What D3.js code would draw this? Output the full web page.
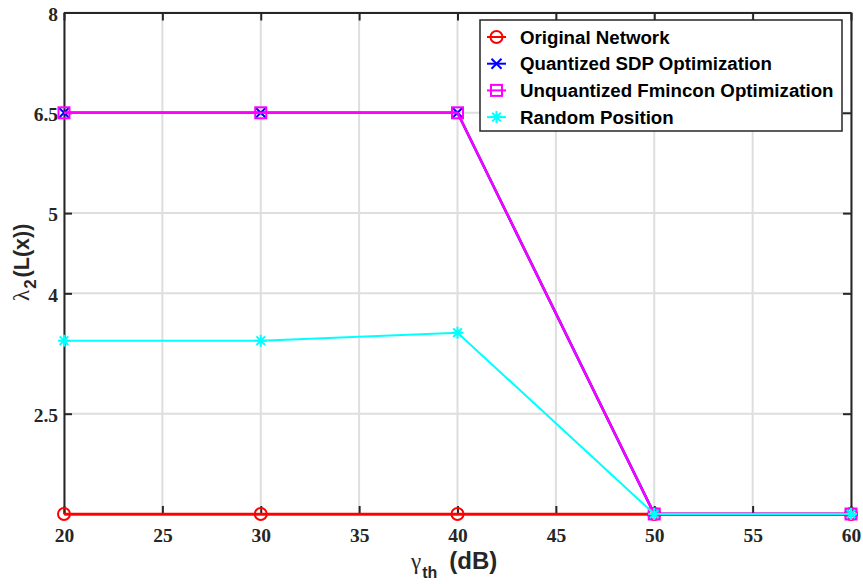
<!DOCTYPE html>
<html>
<head>
<meta charset="utf-8">
<script src="https://cdn.jsdelivr.net/npm/d3@7"></script>
<style>
  body { margin: 0; background: #fff; }
  svg { display: block; }
</style>
</head>
<body>
<svg id="chart" width="863" height="584"></svg>
<script>
// Threshold values on the x axis (dB)
const gammaTh = [20, 30, 40, 50, 60];

// lambda_2(L(x)) for each method
const originalNetwork     = [1.25, 1.25, 1.25, 1.25, 1.25];
const quantizedSDP        = [6.5, 6.5, 6.5, 1.25, 1.25];
const unquantizedFmincon  = [6.5, 6.5, 6.5, 1.25, 1.25];
const randomPosition      = [3.41, 3.41, 3.51, 1.25, 1.25];

const seriesNames = ["Original Network", "Quantized SDP Optimization",
                     "Unquantized Fmincon Optimization", "Random Position"];

const xTicks = [20, 25, 30, 35, 40, 45, 50, 55, 60];
const yTicks = [2.5, 4, 5, 6.5, 8];
const yTickLabels = ["2.5", "4", "5", "6.5", "8"];
const yMin = 1.25;

const svg = d3.select("#chart");
const W = 863, H = 584;
const m = { left: 64, right: 12, top: 12.5, bottom: 70 };
const iw = W - m.left - m.right, ih = H - m.top - m.bottom;

const x = d3.scaleLinear().domain([20, 60]).range([0, iw]);
// The y axis uses a non-uniform tick spacing; a piecewise linear scale reproduces it
const yFrac = [0, 0.2, 0.44, 0.6, 0.8, 1];
const y = d3.scaleLinear()
  .domain([yMin].concat(yTicks))
  .range(yFrac.map(f => ih * (1 - f)));

const g = svg.append("g").attr("transform", `translate(${m.left},${m.top})`);

// grid
g.append("g").selectAll("line").data(xTicks).join("line")
  .attr("x1", d => x(d)).attr("x2", d => x(d))
  .attr("y1", 0).attr("y2", ih)
  .attr("stroke", "#dedede").attr("stroke-width", 2);
g.append("g").selectAll("line").data(yTicks).join("line")
  .attr("x1", 0).attr("x2", iw)
  .attr("y1", d => y(d)).attr("y2", d => y(d))
  .attr("stroke", "#dedede").attr("stroke-width", 2);

const tickFont = "'Liberation Serif', 'Times New Roman', serif";
const sansFont = "'Liberation Sans', Arial, Helvetica, sans-serif";

// axes (ticks point inward, on all four sides)
const axB = d3.axisBottom(x).tickValues(xTicks).tickFormat(d3.format("d"))
  .tickSizeInner(-8).tickSizeOuter(0).tickPadding(14);
const axT = d3.axisTop(x).tickValues(xTicks).tickFormat("")
  .tickSizeInner(-8).tickSizeOuter(0);
const axL = d3.axisLeft(y).tickValues(yTicks).tickFormat((d, i) => yTickLabels[i])
  .tickSizeInner(-8).tickSizeOuter(0).tickPadding(6);
const axR = d3.axisRight(y).tickValues(yTicks).tickFormat("")
  .tickSizeInner(-8).tickSizeOuter(0);

function styleAxis(sel) {
  sel.select(".domain").attr("stroke", "#262626").attr("stroke-width", 2);
  sel.selectAll(".tick line").attr("stroke", "#262626").attr("stroke-width", 2);
  sel.selectAll(".tick text").attr("fill", "#262626")
    .style("font-family", tickFont).style("font-weight", "bold").style("font-size", "19.5px");
}

g.append("g").attr("transform", `translate(0,${ih})`).call(axB).call(styleAxis);
g.append("g").call(axT).call(styleAxis);
g.append("g").call(axL).call(styleAxis).selectAll(".tick text").attr("dy", "0.4em");
g.append("g").attr("transform", `translate(${iw},0)`).call(axR).call(styleAxis);

// series
const series = [
  { name: seriesNames[0], values: originalNetwork,    color: "#ff0000", marker: "circle",   w: 2.4 },
  { name: seriesNames[1], values: quantizedSDP,       color: "#0000ff", marker: "cross",    w: 2.6 },
  { name: seriesNames[2], values: unquantizedFmincon, color: "#ff00ff", marker: "square",   w: 2.4 },
  { name: seriesNames[3], values: randomPosition,     color: "#00ffff", marker: "asterisk", w: 2.0 }
];

function drawMarker(sel, type, color) {
  if (type === "circle") {
    sel.append("circle").attr("r", 6).attr("fill", "none")
      .attr("stroke", color).attr("stroke-width", 2);
  } else if (type === "square") {
    sel.append("rect").attr("x", -5.5).attr("y", -5.5).attr("width", 11).attr("height", 11)
      .attr("fill", "none").attr("stroke", color).attr("stroke-width", 2);
  } else if (type === "cross") {
    sel.append("path").attr("d", "M-5,-5L5,5M-5,5L5,-5")
      .attr("stroke", color).attr("stroke-width", 2).attr("fill", "none");
  } else if (type === "asterisk") {
    sel.append("path").attr("d", "M-6,0L6,0M0,-6L0,6M-4.3,-4.3L4.3,4.3M-4.3,4.3L4.3,-4.3")
      .attr("stroke", color).attr("stroke-width", 2).attr("fill", "none");
  }
}

const line = d3.line().x((d, i) => x(gammaTh[i])).y(d => y(d));

series.forEach(s => {
  const sg = g.append("g");
  sg.append("path").datum(s.values).attr("d", line)
    .attr("fill", "none").attr("stroke", s.color).attr("stroke-width", s.w);
  sg.selectAll("g.mk").data(s.values).join("g").attr("class", "mk")
    .attr("transform", (d, i) => `translate(${x(gammaTh[i])},${y(d)})`)
    .each(function () { drawMarker(d3.select(this), s.marker, s.color); });
});

// legend
const lg = svg.append("g").attr("transform", "translate(480,20)");
lg.append("rect").attr("width", 362).attr("height", 111)
  .attr("fill", "#fff").attr("stroke", "#262626").attr("stroke-width", 1.5);
series.forEach((s, i) => {
  const row = lg.append("g").attr("transform", `translate(0,${17 + i * 26.7})`);
  row.append("line").attr("x1", 7).attr("x2", 26).attr("stroke", s.color).attr("stroke-width", 2);
  const mk = row.append("g").attr("transform", "translate(16.5,0)");
  drawMarker(mk, s.marker, s.color);
  row.append("text").attr("x", 40).attr("y", 0).attr("dy", "0.36em")
    .style("font-family", sansFont)
    .style("font-weight", "bold").style("font-size", "18.7px")
    .attr("fill", "#000").text(s.name);
});

// x label: gamma_th (dB)
const xl = svg.append("text").attr("x", 411).attr("y", 569)
  .attr("fill", "#262626");
xl.append("tspan").style("font-family", tickFont).style("font-size", "23px").text("γ");
xl.append("tspan").attr("dy", 9).attr("dx", 1).style("font-family", sansFont)
  .style("font-weight", "bold").style("font-size", "16px").text("th");
xl.append("tspan").attr("dy", -9).attr("dx", 12)
  .style("font-family", sansFont)
  .style("font-weight", "bold").style("font-size", "24px").text("(dB)");

// y label: lambda_2(L(x))
const yl = svg.append("text").attr("transform", "translate(29,301) rotate(-90)")
  .attr("fill", "#262626");
yl.append("tspan").style("font-family", tickFont).style("font-size", "23px").text("λ");
yl.append("tspan").attr("dy", 7).attr("dx", 1).style("font-family", sansFont)
  .style("font-weight", "bold").style("font-size", "17px").text("2");
yl.append("tspan").attr("dy", -7).attr("dx", 2)
  .style("font-family", sansFont)
  .style("font-weight", "bold").style("font-size", "21.5px").text("(L(x))");
</script>
</body>
</html>
